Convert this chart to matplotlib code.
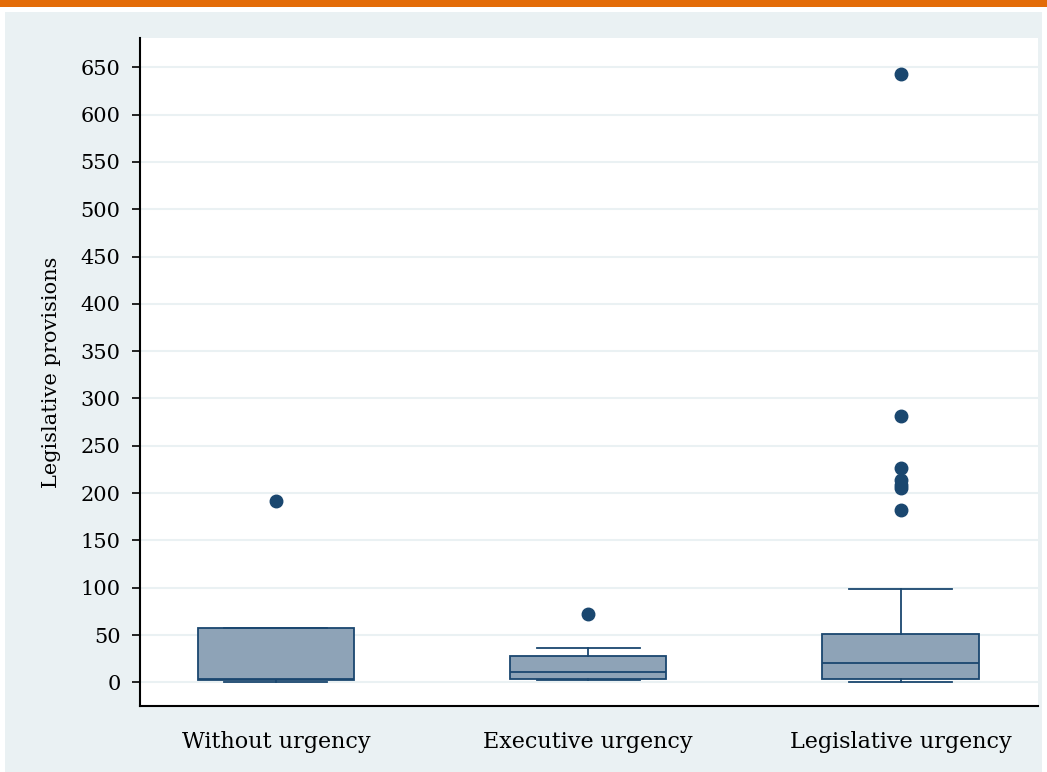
import numpy as np
import matplotlib
matplotlib.use('Agg')
from matplotlib import pyplot as plt
from matplotlib.patches import Rectangle

# box statistics
categories = ['Without urgency', 'Executive urgency', 'Legislative urgency']
whislo = [0, 2, 0]
q1 = [2, 4, 4]
med = [4, 10.5, 20]
q3 = [57, 27.5, 51]
whishi = [57, 36, 99]
outliers = [[192], [72], [643, 281, 227, 214, 209, 205, 182]]

y_ticks = list(range(0, 651, 50))

NAVY = '#1a476f'
FILL = '#8ea3b7'
BG = '#eaf1f3'


def main():
    plt.rcParams['font.family'] = ['DejaVu Serif']
    fig = plt.figure(figsize=(10.47, 7.72), dpi=100)
    fig.patch.set_facecolor('white')

    # outer stata-like background and orange rule on top
    fig.patches.append(Rectangle((5 / 1047, 0), 1037 / 1047, 1 - 12 / 772,
                                 transform=fig.transFigure, facecolor=BG,
                                 edgecolor='none', zorder=-10))
    fig.patches.append(Rectangle((0, 1 - 7 / 772), 1, 7 / 772,
                                 transform=fig.transFigure, facecolor='#e36c09',
                                 edgecolor='none', zorder=-10))

    ax = fig.add_axes([140 / 1047, 1 - 706 / 772, 898 / 1047, 668 / 772])
    ax.set_zorder(1)
    ax.set_facecolor('white')

    stats = []
    for i, name in enumerate(categories):
        stats.append(dict(label=name, whislo=whislo[i], q1=q1[i], med=med[i],
                          q3=q3[i], whishi=whishi[i], fliers=outliers[i]))

    ax.bxp(stats, positions=[1, 2, 3], widths=0.5, patch_artist=True,
           boxprops=dict(facecolor=FILL, edgecolor=NAVY, linewidth=1.3),
           medianprops=dict(color=NAVY, linewidth=1.3),
           whiskerprops=dict(color=NAVY, linewidth=1.3),
           capprops=dict(color=NAVY, linewidth=1.3),
           capwidths=0.33,
           flierprops=dict(marker='o', markerfacecolor=NAVY, markeredgecolor=NAVY,
                           markersize=9),
           zorder=3)

    ax.set_xlim(0.565, 3.44)
    ax.set_ylim(-25, 681)
    ax.set_yticks(y_ticks)
    ax.set_yticklabels([str(v) for v in y_ticks], fontsize=15)
    ax.tick_params(axis='y', length=6, width=1.2, direction='out', pad=8)
    ax.tick_params(axis='x', length=0, pad=18, labelsize=16)
    ax.yaxis.grid(True, color=BG, linewidth=1.5, zorder=0)
    ax.set_axisbelow(True)

    ax.spines['top'].set_visible(False)
    ax.spines['right'].set_visible(False)
    ax.spines['left'].set_linewidth(1.5)
    ax.spines['bottom'].set_linewidth(1.5)

    ax.set_ylabel('Legislative provisions', fontsize=15, labelpad=14)

    fig.savefig('out.png', dpi=100)


if __name__ == '__main__':
    main()
